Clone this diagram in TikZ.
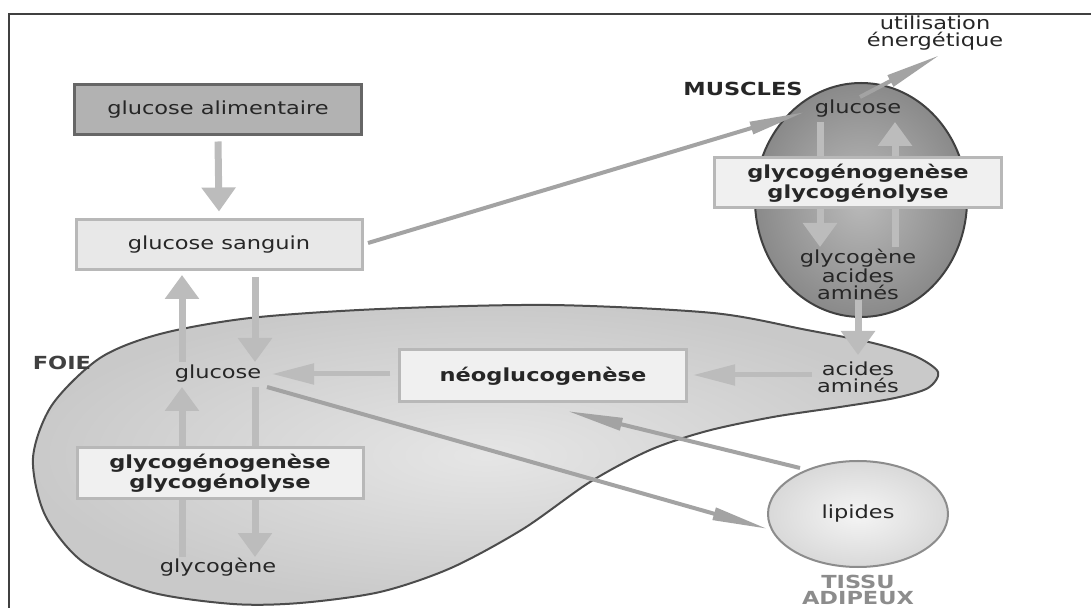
\documentclass[tikz,border=0pt]{standalone}
\usepackage{fontspec}
\usepackage{xcolor}
\usepackage{tikz}
\usetikzlibrary{shapes.geometric,arrows.meta,positioning,calc}
\newfontfamily\diagfont{DejaVu Sans}[FakeStretch=1.25]
\definecolor{arrowgrey}{RGB}{188,188,188}
\tikzset{
    txt/.style={font=\diagfont\fontsize{9}{8.3}\selectfont, text=black!85, align=center, inner sep=0pt},
    tag/.style={txt, font=\diagfont\bfseries\fontsize{9}{8.3}\selectfont},
    darkbox/.style={txt, rectangle, draw=black!60, fill=black!30, line width=1.5pt, minimum width=143.5pt, minimum height=25pt},
    lightbox/.style={txt, rectangle, draw=black!28, fill=black!9, line width=1.5pt, minimum width=143pt, minimum height=25pt},
    procbox/.style={lightbox, font=\diagfont\bfseries\fontsize{9}{8.3}\selectfont, fill=black!6},
    organ/.style={ellipse, draw=black!75, line width=1pt, inner color=black!27, outer color=black!46},
    fat/.style={txt, ellipse, draw=black!45, line width=1pt, inner color=black!4, outer color=black!15},
    bigarrow/.style={draw=arrowgrey, line width=3.5pt, -{Triangle[width=16.5pt,length=12pt]}},
    sidearrow/.style={draw=arrowgrey, line width=2.5pt, -{Triangle[width=10pt,length=21pt]}},
    thinarrow/.style={draw=black!36, line width=2pt, -{Triangle[width=6pt,length=28pt]}}
}

\begin{document}
\begin{tikzpicture}[x=0.5pt, y=-0.5pt]
    \useasboundingbox (0,0) rectangle (1091,608);
    \draw[black!75, line width=0.8pt] (1091,14) -- (9,14) -- (9,608);

    % Liver
    \shadedraw[draw=black!70, line width=1pt, inner color=black!10, outer color=black!21]
        plot[smooth cycle] coordinates {(33,458) (52,405) (100,358) (160,334) (250,318) (380,309)
        (550,305) (713,313) (807,330) (873,343) (915,356) (938,372) (928,388) (895,398) (840,407)
        (773,417) (707,431) (650,450) (590,482) (523,529) (451,568) (380,592) (300,603) (233,604)
        (150,592) (83,562) (45,515)};

    % Muscle and adipose tissue
    \node [organ, minimum width=106pt, minimum height=117pt] (muscle) at (861,200) {};
    \node [fat, minimum width=90pt, minimum height=53pt] (lipides) at (858,514) {lipides};

    % Blood glucose
    \node [darkbox] (alim) at (218,110) {glucose alimentaire};
    \node [lightbox] (sanguin) at (219,245) {glucose sanguin};

    % Texts inside the organs
    \node [txt] (glucliv) at (218,374) {glucose};
    \node [txt] (glycliv) at (218,567) {glycog\`ene};
    \node [txt] (acidliv) at (858,377) {acides\\amin\'es};
    \node [procbox, minimum width=143.5pt, minimum height=26pt] (neo) at (543,376) {n\'eoglucogen\`ese};
    \node [txt] (glucmus) at (858,109) {glucose};
    \node [txt] (musout) at (858,274) {glycog\`ene\\acides\\amin\'es};
    \node [txt] (util) at (935,33) {utilisation\\\'energ\'etique};

    % Labels
    \node [tag, text=black!75] (foie) at (62,363) {FOIE};
    \node [tag] (muscles) at (743,89) {MUSCLES};
    \node [tag, text=black!45] (tissu) at (858,590) {TISSU\\ADIPEUX};

    % Connections
    \draw [bigarrow] ([shift={(0,5)}]alim.south) -- ([shift={(0,-7)}]sanguin.north);
    \draw [bigarrow] ([shift={(-36,-12)}]glucliv.center) -- ([shift={(-37,30)}]sanguin.center);
    \draw [bigarrow] ([shift={(36,32)}]sanguin.center) -- ([shift={(37,-12)}]glucliv.center);
    \draw [sidearrow] ([shift={(-153,-2)}]neo.center) -- ([shift={(54,0)}]glucliv.center);
    \draw [sidearrow] ([shift={(-46,-2)}]acidliv.center) -- ([shift={(150,-1)}]neo.center);
    \draw [bigarrow] ([shift={(-36,-10)}]glycliv.center) -- ([shift={(-36,13)}]glucliv.center);
    \draw [bigarrow] ([shift={(37,13)}]glucliv.center) -- ([shift={(37,-10)}]glycliv.center);
    \draw [bigarrow] ([shift={(-38,13)}]glucmus.center) -- ([shift={(-38,-27)}]musout.center);
    \draw [bigarrow] ([shift={(37,-27)}]musout.center) -- ([shift={(37,13)}]glucmus.center);
    \draw [bigarrow] ([shift={(0,26)}]musout.center) -- ([shift={(0,-22)}]acidliv.center);
    \draw [thinarrow] ([shift={(149,-2)}]sanguin.center) -- ([shift={(-53,3)}]glucmus.center);
    \draw [thinarrow] ([shift={(2,-12)}]glucmus.center) -- ([shift={(5,22)}]util.center);
    \draw [thinarrow] ([shift={(49,13)}]glucliv.center) -- ([shift={(-90,15)}]lipides.center);
    \draw [thinarrow] ([shift={(-58,-46)}]lipides.center) -- ([shift={(24,35)}]neo.center);

    % Glycogen boxes on top of the arrows
    \node [procbox] (glyliv) at (220,473) {glycog\'enogen\`ese\\glycog\'enolyse};
    \node [procbox, minimum width=143.5pt] (glymus) at (858,183) {glycog\'enogen\`ese\\glycog\'enolyse};
\end{tikzpicture}
\end{document}
